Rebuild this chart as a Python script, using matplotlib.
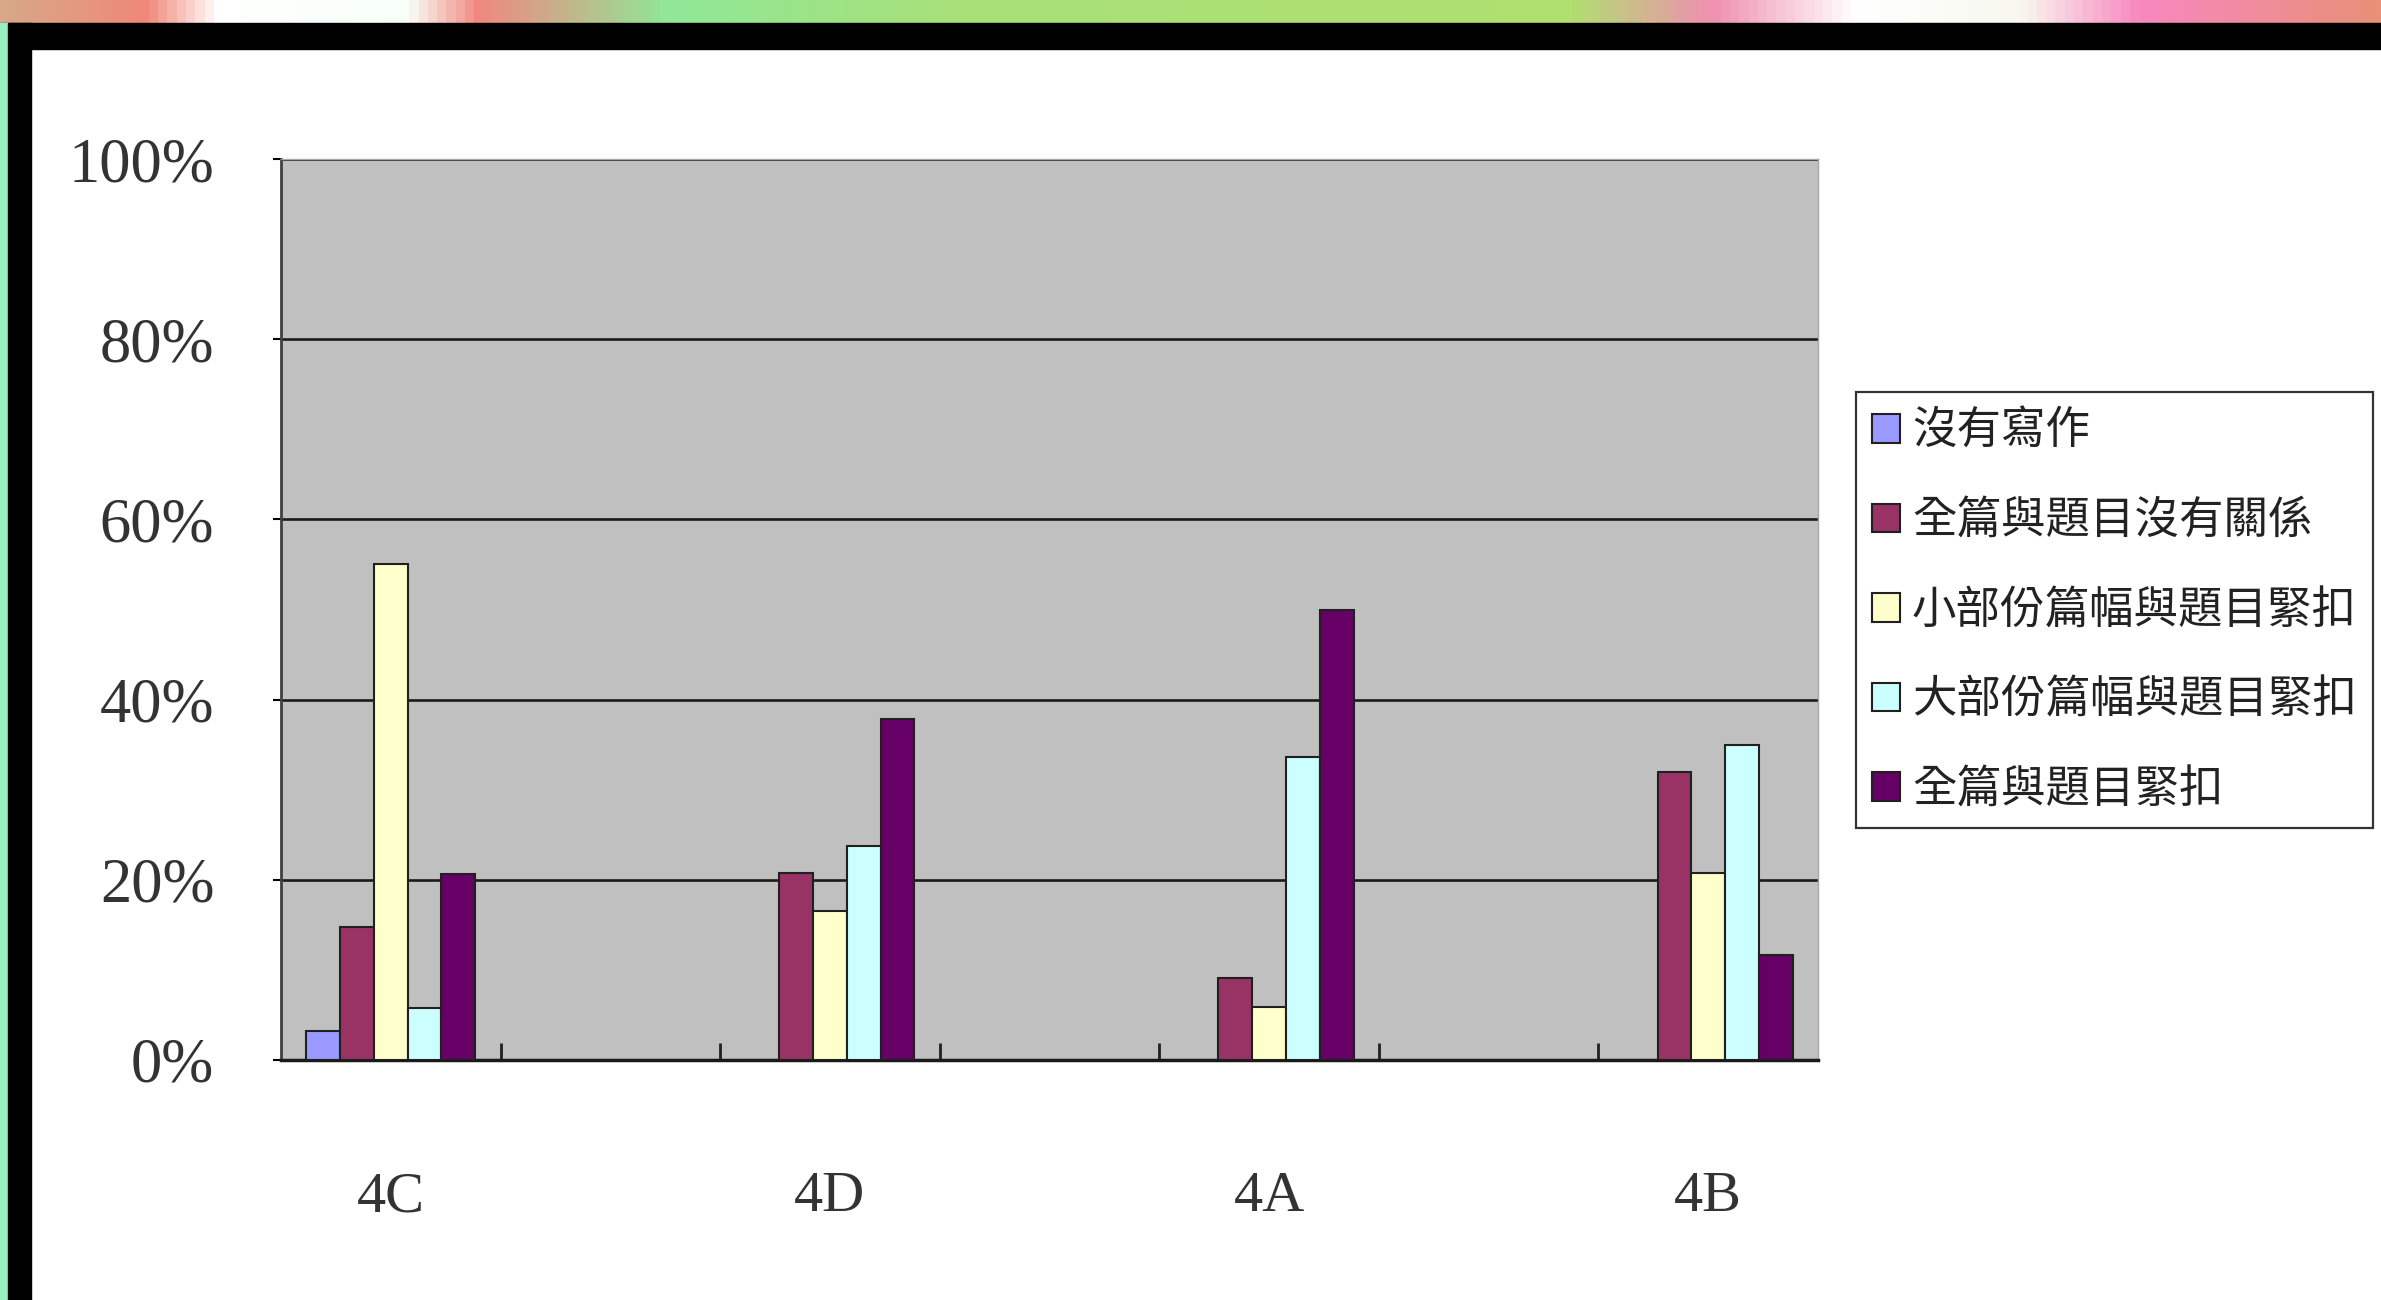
import numpy as np
import matplotlib
matplotlib.use('Agg')
import matplotlib.pyplot as plt
from matplotlib import font_manager
from matplotlib.colors import LinearSegmentedColormap
from matplotlib.patches import Rectangle

# data (percent of students per class)
classes = ['4C', '4D', '4A', '4B']
series_names = ['沒有寫作', '全篇與題目沒有關係', '小部份篇幅與題目緊扣',
                '大部份篇幅與題目緊扣', '全篇與題目緊扣']
no_writing = [3.2, 0, 0, 0]
unrelated = [14.8, 20.7, 9.1, 32.0]
small_part = [55.0, 16.5, 5.9, 20.7]
large_part = [5.8, 23.8, 33.6, 35.0]
fully_related = [20.6, 37.8, 49.9, 11.7]
series_colors = ['#9999FF', '#993366', '#FFFFCC', '#CCFFFF', '#660066']
y_ticks = [0, 20, 40, 60, 80, 100]

W, H = 2381, 1300
names = {f.name for f in font_manager.fontManager.ttflist}
if 'Liberation Sans Narrow' in names:
    num_font = 'Liberation Sans Narrow'
else:
    num_font = 'Liberation Serif'
cjk_font = ['Noto Sans CJK TC', 'DejaVu Sans']

fig = plt.figure(figsize=(W / 100, H / 100), dpi=100)
fig.patch.set_facecolor('white')

# slide decoration: coloured strip, black frame top and left
strip = fig.add_axes([0, 1 - 23 / H, 1, 23 / H])
strip_cmap = LinearSegmentedColormap.from_list('strip', [
    (0.0, '#D8A888'), (0.06, '#F08878'), (0.09, '#FFFFFF'), (0.17, '#F8FFF8'),
    (0.2, '#F08880'), (0.28, '#90E898'), (0.4, '#A8E078'), (0.66, '#B0E070'),
    (0.72, '#F090B0'), (0.78, '#FFFFFF'), (0.85, '#F8F8F0'), (0.9, '#F888C0'),
    (1.0, '#E89078')])
strip.imshow(np.linspace(0, 1, 256)[None, :], aspect='auto', cmap=strip_cmap)
strip.set_axis_off()
fig.patches.append(Rectangle((0, 1 - 49 / H), 1, 26 / H, transform=fig.transFigure,
                             color='black', zorder=5))
fig.patches.append(Rectangle((0, 0), 8 / W, 1 - 23 / H, transform=fig.transFigure,
                             color='#98F0C0', zorder=5))
fig.patches.append(Rectangle((8 / W, 0), 23 / W, 1 - 23 / H, transform=fig.transFigure,
                             color='black', zorder=5))

ax = fig.add_axes([281 / W, 1 - 1060 / H, 1537 / W, 901 / H])
ax.set_facecolor('#C0C0C0')

series = [no_writing, unrelated, small_part, large_part, fully_related]
n = len(series)
width = 1 / (n + 1.5)
x = np.arange(len(classes)) * 2
handles = []
for i, (vals, color) in enumerate(zip(series, series_colors)):
    b = ax.bar(x + (i - (n - 1) / 2) * width, vals, width, color=color,
               edgecolor='#202020', linewidth=1.5, zorder=3)
    handles.append(b)

ax.set_xlim(-0.5, 2 * len(classes) - 1.5)
ax.set_ylim(0, 100)
ax.set_yticks(y_ticks, labels=[f'{v}%' for v in y_ticks])
ax.yaxis.grid(True, color='#1a1a1a', linewidth=1.9, zorder=1)
ax.set_axisbelow(True)
ax.set_xticks(x, labels=classes)
ax.set_xticks(np.arange(0.5, 2 * len(classes) - 1.5, 1), minor=True)
ax.tick_params(axis='x', which='major', length=0, pad=80, labelsize=42, labelcolor='#333333')
ax.tick_params(axis='x', which='minor', direction='in', length=12, width=2, color='#202020')
ax.tick_params(axis='y', direction='out', length=6, width=1.5, pad=42, labelsize=45,
               labelcolor='#333333')
for lab in ax.get_xticklabels() + ax.get_yticklabels():
    lab.set_family(num_font)
ax.spines['left'].set_color('#404040')
ax.spines['left'].set_linewidth(2)
ax.spines['bottom'].set_color('#1a1a1a')
ax.spines['bottom'].set_linewidth(2.5)
for s in ['top', 'right']:
    ax.spines[s].set_color('#A8A8A8')
    ax.spines[s].set_linewidth(1)

leg = fig.legend(handles, series_names, loc='upper left',
                 bbox_to_anchor=(1856 / W, 1 - 392 / H), borderaxespad=0,
                 prop={'family': cjk_font, 'size': 32},
                 frameon=True, fancybox=False,
                 edgecolor='black', handlelength=0.62, handleheight=0.62,
                 handletextpad=0.28, labelspacing=0.98, borderpad=0.36)
leg.get_frame().set_linewidth(1.6)
for t in leg.get_texts():
    t.set_color('#222222')

fig.savefig('out.png', dpi=100, facecolor='white')
